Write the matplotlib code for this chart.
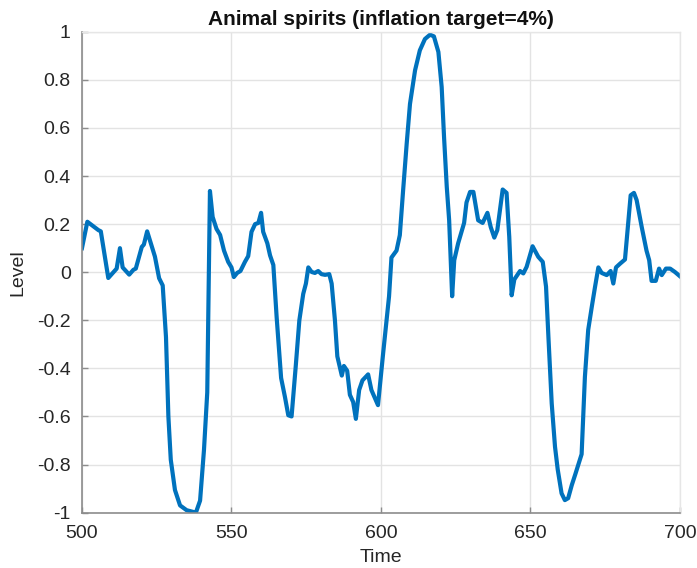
import numpy as np
import matplotlib
matplotlib.use('Agg')
import matplotlib.pyplot as plt

# values
time = [500, 501.8, 505.5, 506.3, 508.8, 511.6, 512.7, 513.6, 515.8, 517.2,
        518, 520, 520.7, 521.8, 524.4, 525.8, 527, 528.1, 528.9, 529.7,
        531.1, 532.8, 535, 538.1, 539.5, 540.8, 541.9, 542.8, 543.7, 545,
        546.2, 547.5, 548.9, 550, 550.8, 551.9, 553, 554.5, 555.6, 556.7,
        557.9, 559, 559.9, 560.6, 562, 562.9, 564, 565.1, 566.6, 567.9,
        569, 570.1, 571.5, 572.7, 574, 574.9, 575.7, 576.8, 577.9, 579,
        580.1, 581.3, 582.7, 583.5, 584.6, 585.4, 586.9, 587.6, 588.7, 589.6,
        590.7, 591.6, 592.7, 593.8, 595.7, 596.8, 599, 600.7, 602.7, 603.5,
        605.2, 606.3, 607.4, 608.6, 609.7, 611.4, 613, 614.7, 616.4, 617.7,
        619.2, 620.3, 621.1, 622, 622.8, 623.8, 624.5, 625.8, 627.8, 628.6,
        629.8, 630.9, 632.5, 634, 635.6, 636.7, 637.9, 638.9, 640.7, 642,
        642.9, 643.7, 644.6, 646.5, 647.6, 648.7, 650.7, 652.6, 654.1, 655.2,
        656, 657.1, 658.2, 659.1, 660.4, 661.5, 662.6, 663.8, 665, 667.1,
        668.2, 669.3, 670.5, 671.6, 672.7, 673.8, 675.5, 676.8, 677.7, 678.6,
        680, 681.6, 682.7, 683.5, 684.6, 685.5, 687.2, 688.8, 689.7, 690.5,
        691.9, 693, 693.9, 695.3, 696.7, 698.3, 700]
level = [0.10, 0.21, 0.175, 0.17, -0.024, 0.015, 0.10, 0.02, -0.01, 0.01,
         0.015, 0.105, 0.115, 0.17, 0.065, -0.025, -0.055, -0.27, -0.60, -0.78,
         -0.906, -0.97, -0.99, -1.0, -0.95, -0.74, -0.50, 0.338, 0.23, 0.18,
         0.155, 0.09, 0.043, 0.02, -0.02, -0.003, 0.005, 0.043, 0.067, 0.168,
         0.20, 0.205, 0.247, 0.168, 0.12, 0.07, 0.03, -0.186, -0.44, -0.52,
         -0.595, -0.60, -0.39, -0.20, -0.09, -0.047, 0.02, 0.001, -0.003, 0.005,
         -0.008, -0.011, -0.008, -0.047, -0.20, -0.35, -0.43, -0.39, -0.41, -0.51,
         -0.54, -0.61, -0.49, -0.45, -0.425, -0.49, -0.553, -0.34, -0.10, 0.061,
         0.09, 0.154, 0.34, 0.535, 0.70, 0.84, 0.923, 0.97, 0.988, 0.981,
         0.916, 0.77, 0.56, 0.355, 0.216, -0.10, 0.05, 0.12, 0.205, 0.29,
         0.334, 0.334, 0.216, 0.205, 0.247, 0.188, 0.144, 0.175, 0.344, 0.33,
         0.147, -0.096, -0.03, 0.005, -0.005, 0.022, 0.108, 0.064, 0.043, -0.06,
         -0.27, -0.546, -0.726, -0.82, -0.92, -0.948, -0.94, -0.886, -0.84, -0.757,
         -0.435, -0.24, -0.144, -0.06, 0.02, -0.003, -0.012, 0.005, -0.047, 0.02,
         0.036, 0.053, 0.21, 0.32, 0.33, 0.30, 0.188, 0.09, 0.05, -0.036,
         -0.036, 0.015, -0.012, 0.015, 0.015, 0.001, -0.017]

x_ticks = [500, 550, 600, 650, 700]
y_ticks = [-1, -0.8, -0.6, -0.4, -0.2, 0, 0.2, 0.4, 0.6, 0.8, 1]
y_labels = ['-1', '-0.8', '-0.6', '-0.4', '-0.2', '0', '0.2', '0.4', '0.6', '0.8', '1']

plt.rcParams['font.family'] = ['Liberation Sans', 'DejaVu Sans']

fig = plt.figure(figsize=(6.97, 5.68), dpi=100)
ax = fig.add_axes([0.1176, 0.0975, 0.8580, 0.8465])

ax.plot(time, level, color='#0072BD', lw=3.0, solid_joinstyle='round')

ax.set_xlim(500, 700)
ax.set_ylim(-1, 1)
ax.set_xticks(x_ticks)
ax.set_yticks(y_ticks)
ax.set_yticklabels(y_labels)
ax.grid(True, color='#e3e3e3', lw=1)
ax.set_axisbelow(True)

for side in ['left', 'bottom']:
    ax.spines[side].set_color('#8c8c8c')
    ax.spines[side].set_linewidth(1.2)
for side in ['top', 'right']:
    ax.spines[side].set_color('#e6e6e6')
    ax.spines[side].set_linewidth(1.0)

ax.tick_params(direction='in', length=4, width=1, color='#8c8c8c',
               labelsize=14, labelcolor='#262626')
ax.tick_params(axis='x', pad=9)
ax.tick_params(axis='y', pad=8)

ax.set_title('Animal spirits (inflation target=4%)', fontsize=15,
             fontweight='bold', color='#111111', pad=5)
ax.set_xlabel('Time', fontsize=14, color='#262626', labelpad=5)
ax.set_ylabel('Level', fontsize=14, color='#262626', labelpad=8)

fig.savefig('out.png', dpi=100, facecolor='white')
